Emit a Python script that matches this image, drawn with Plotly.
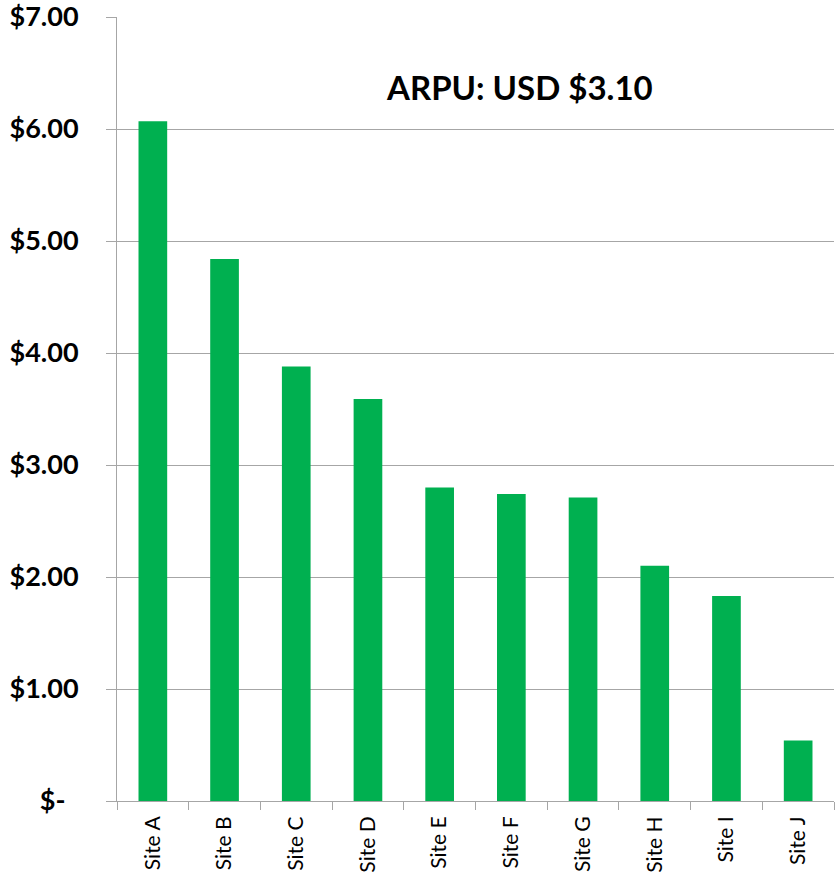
import plotly.graph_objects as go

sites = ["Site A", "Site B", "Site C", "Site D", "Site E", "Site F", "Site G", "Site H", "Site I", "Site J"]
arpu = [6.07, 4.84, 3.88, 3.59, 2.80, 2.74, 2.71, 2.10, 1.83, 0.54]
tick_vals = [0, 1, 2, 3, 4, 5, 6, 7]
tick_text = ["$-\u00a0\u00a0", "$1.00", "$2.00", "$3.00", "$4.00", "$5.00", "$6.00", "$7.00"]
title_text = "ARPU: USD $3.10"
FONT = "Lato"

W, H = 836, 881
ML, MR, MT, MB = 117, 2, 17, 80

fig = go.Figure(go.Bar(x=sites, y=arpu, marker=dict(color="#00B050", line=dict(width=0))))

pw, ph = W - ML - MR, H - MT - MB
tx, ty = 519, 87  # title centre in page pixels

fig.update_layout(
    width=W, height=H,
    margin=dict(l=ML, r=MR, t=MT, b=MB),
    paper_bgcolor="white", plot_bgcolor="white",
    bargap=0.6,
    showlegend=False,
    font=dict(family=FONT, color="black"),
    annotations=[dict(text="<b>" + title_text + "</b>",
                      x=(tx - ML) / pw, y=(H - MB - ty) / ph,
                      xref="paper", yref="paper", xanchor="center", yanchor="middle",
                      showarrow=False, font=dict(size=33, family=FONT, color="black"))],
)

fig.update_yaxes(range=[0, 7], tickvals=tick_vals, ticktext=tick_text, automargin=False,
                 tickfont=dict(size=27, family=FONT, color="black", weight="bold"),
                 showgrid=True, gridcolor="#A6A6A6", gridwidth=1,
                 showline=True, linecolor="#A6A6A6", linewidth=1,
                 ticks="outside", ticklen=10, tickcolor="#A6A6A6", zeroline=False,
                 ticklabelstandoff=22, ticklabeloverflow="allow")
fig.update_xaxes(tickangle=-90, tickfont=dict(size=21, family=FONT, color="black"), automargin=False,
                 showline=True, linecolor="#A6A6A6", linewidth=1,
                 ticks="outside", ticklen=8, tickcolor="#A6A6A6", tickson="boundaries",
                 ticklabelstandoff=6, mirror=False)

fig.write_html("out.html", config={"displayModeBar": False},
               post_script="document.body.style.margin='0';document.body.style.overflow='hidden';")
